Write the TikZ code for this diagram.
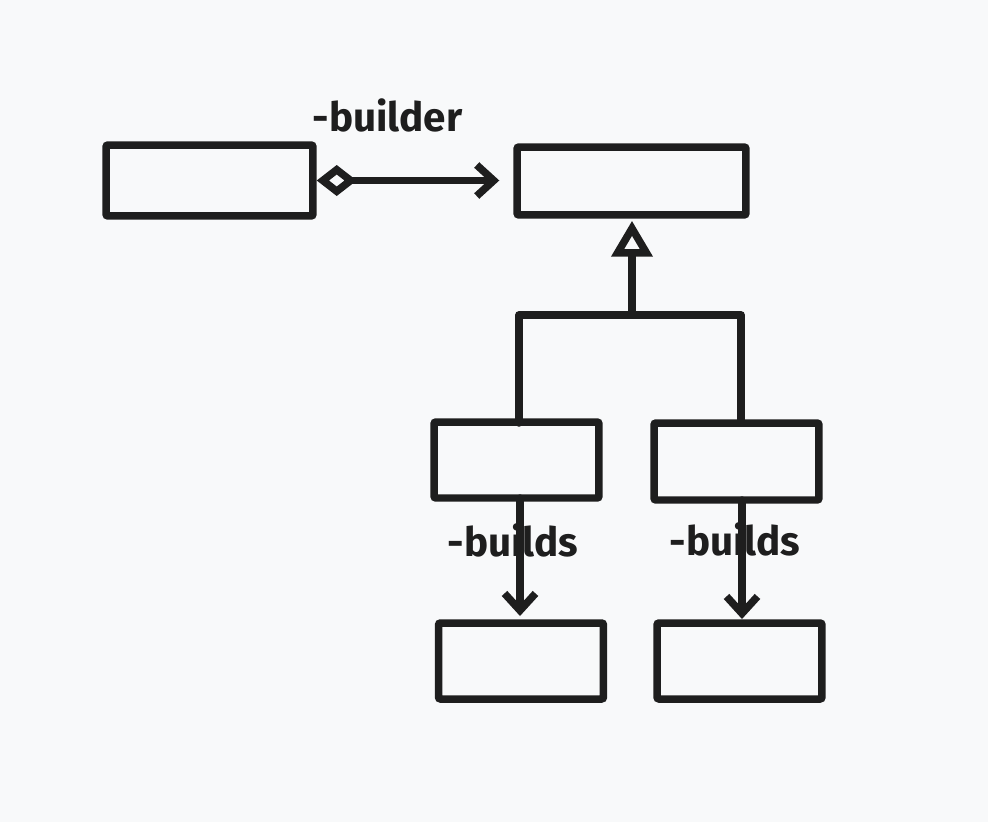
\documentclass[tikz,border=0pt]{standalone}
\usepackage{fontspec}
\setmainfont{Fira Sans}
\usetikzlibrary{arrows.meta,calc}
\definecolor{ink}{HTML}{1E1E1E}
\definecolor{paper}{HTML}{F8F9FA}
\tikzset{
    block/.style = {draw=ink, rectangle, line width=0.15cm, rounded corners=0.04cm,
        minimum height=1.52cm,
        minimum width=3.3cm},
    link/.style = {draw=ink, line width=0.15cm, line cap=round, line join=round},
    barb/.style = {-{Straight Barb[length=0.34cm,width=0.62cm]}},
    lbl/.style = {text=ink, font=\fontsize{23}{27}\selectfont\bfseries}
}
\begin{document}
\begin{tikzpicture}[x=0.02cm, y=-0.02cm]
                \fill[paper] (0,0) rectangle (988,822);
                \useasboundingbox (0,0) rectangle (988,822);
                \node[block, minimum width=4.14cm, minimum height=1.42cm] (dir) at (209.5,180.5) {};
                \node[block, minimum width=4.58cm, minimum height=1.36cm] (bld) at (631.5,181) {};
                \node[block] (bldA) at (516.5,460) {};
                \node[block, minimum height=1.54cm] (bldB) at (736.5,461.5) {};
                \node[block] (prodA) at (521,661) {};
                \node[block] (prodB) at (739.5,661) {};
                \coordinate (join) at (632,315);
                \draw [link, {Diamond[open,length=0.8cm,width=0.62cm]}-{Straight Barb[length=0.34cm,width=0.62cm]}, shorten >=0.28cm] (dir.east) -- node[lbl, anchor=south, pos=0.36, yshift=0.78cm] {-builder} (dir.east -| bld.west);
                \draw [link] (519,423) -- (519,315) -- (741,315) -- (741,423);
                \draw [link, -{Triangle[open,length=0.72cm,width=0.8cm]}, shorten >=0.04cm] (join) -- (join |- bld.south);
                \draw [link, barb, shorten >=0.14cm] (520,498) -- node[lbl, pos=0.34, xshift=-0.14cm] {-builds} (520,623);
                \draw [link, barb, shorten >=0.08cm] (742,500) -- node[lbl, pos=0.32, xshift=-0.14cm] {-builds} (742,623);
            \end{tikzpicture}
\end{document}
